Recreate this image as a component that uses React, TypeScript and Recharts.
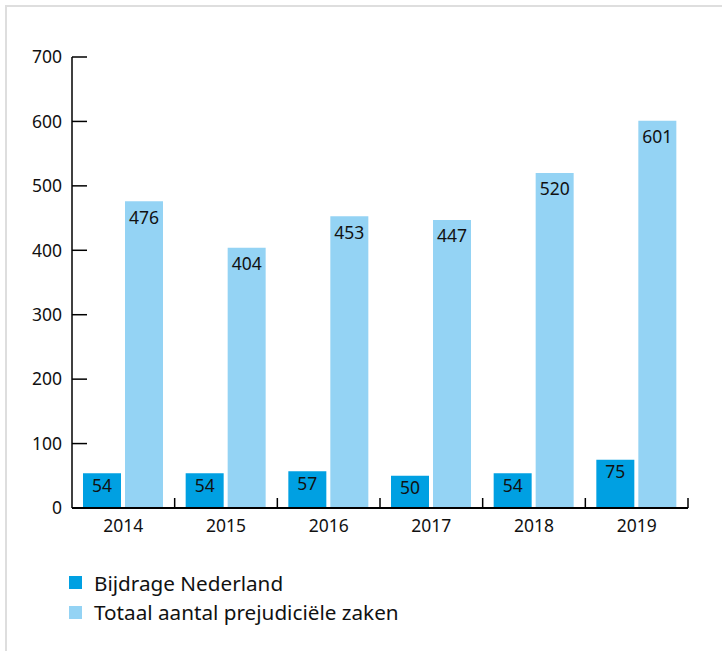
import React from "react";
import { BarChart, Bar, XAxis, YAxis, LabelList } from "recharts";

const years = ["2014", "2015", "2016", "2017", "2018", "2019"];
const bijdrageNederland = [54, 54, 57, 50, 54, 75];
const totaalPrejudicieleZaken = [476, 404, 453, 447, 520, 601];
const yTicks = [0, 100, 200, 300, 400, 500, 600, 700];
const seriesNames = ["Bijdrage Nederland", "Totaal aantal prejudiciële zaken"];

const data = years.map((y, i) => ({
  year: y,
  nl: bijdrageNederland[i],
  total: totaalPrejudicieleZaken[i],
}));

const W = 722;
const H = 651;
const AXIS_X = 72;
const PLOT_RIGHT = 688;
const PLOT_TOP = 57;
const PLOT_BOTTOM = 508;
const BAND = (PLOT_RIGHT - AXIS_X) / years.length;
const DARK = "#00A0E2";
const LIGHT = "#94D3F4";
const TEXT = "#111";
const FONT = "'Noto Sans', sans-serif";

const YTick = (props: any) => {
  const { x, y, payload } = props;
  return (
    <g>
      <line x1={AXIS_X} x2={AXIS_X + 15} y1={y} y2={y} stroke="#000" strokeWidth={1.5} />
      <text x={x} y={y} dy="0.36em" textAnchor="end" fill={TEXT} fontSize={17.5} fontFamily={FONT}>
        {payload.value}
      </text>
    </g>
  );
};

const XTick = (props: any) => {
  const { x, payload } = props;
  const bx = x + BAND / 2;
  return (
    <g>
      <line x1={bx} x2={bx} y1={PLOT_BOTTOM} y2={PLOT_BOTTOM - 10} stroke="#000" strokeWidth={1.5} />
      <text x={x} y={531.5} textAnchor="middle" fill={TEXT} fontSize={17.5} fontFamily={FONT}>
        {payload.value}
      </text>
    </g>
  );
};

export default function App() {
  return (
    <div style={{ position: "absolute", left: 0, top: 0, width: W, height: H, overflow: "hidden", background: "#fff" }}>
      <div
        style={{
          position: "absolute",
          left: 5,
          top: 5,
          width: 900,
          height: 900,
          borderTop: "2px solid #dedede",
          borderLeft: "2px solid #dedede",
        }}
      />
      <div style={{ position: "absolute", left: 0, top: 0 }}>
        <BarChart
          width={W}
          height={H}
          data={data}
          margin={{ top: PLOT_TOP, right: W - PLOT_RIGHT, left: 0, bottom: 113 }}
          barSize={38}
          barGap={4}
        >
          <YAxis
            width={AXIS_X}
            domain={[0, 700]}
            ticks={yTicks}
            interval={0}
            tickSize={0}
            tickMargin={10}
            tick={<YTick />}
            axisLine={{ stroke: "#000", strokeWidth: 1.5 }}
            tickLine={false}
          />
          <XAxis
            dataKey="year"
            height={30}
            tick={<XTick />}
            tickLine={false}
            interval={0}
            axisLine={{ stroke: "#000", strokeWidth: 2 }}
          />
          <Bar dataKey="nl" name={seriesNames[0]} fill={DARK} isAnimationActive={false}>
            <LabelList dataKey="nl" position="insideTop" offset={6} fill={TEXT} fontSize={17.5} fontFamily={FONT} />
          </Bar>
          <Bar dataKey="total" name={seriesNames[1]} fill={LIGHT} isAnimationActive={false}>
            <LabelList dataKey="total" position="insideTop" offset={10} fill={TEXT} fontSize={17.5} fontFamily={FONT} />
          </Bar>
        </BarChart>
      </div>
      <div style={{ position: "absolute", left: 69, top: 568, fontFamily: FONT, fontSize: 20.7, color: TEXT }}>
        {seriesNames.map((n, i) => (
          <div key={n} style={{ display: "flex", alignItems: "center", height: 29.5 }}>
            <span style={{ width: 13, height: 13, background: i === 0 ? DARK : LIGHT, marginRight: 12, display: "inline-block" }} />
            <span>{n}</span>
          </div>
        ))}
      </div>
    </div>
  );
}
